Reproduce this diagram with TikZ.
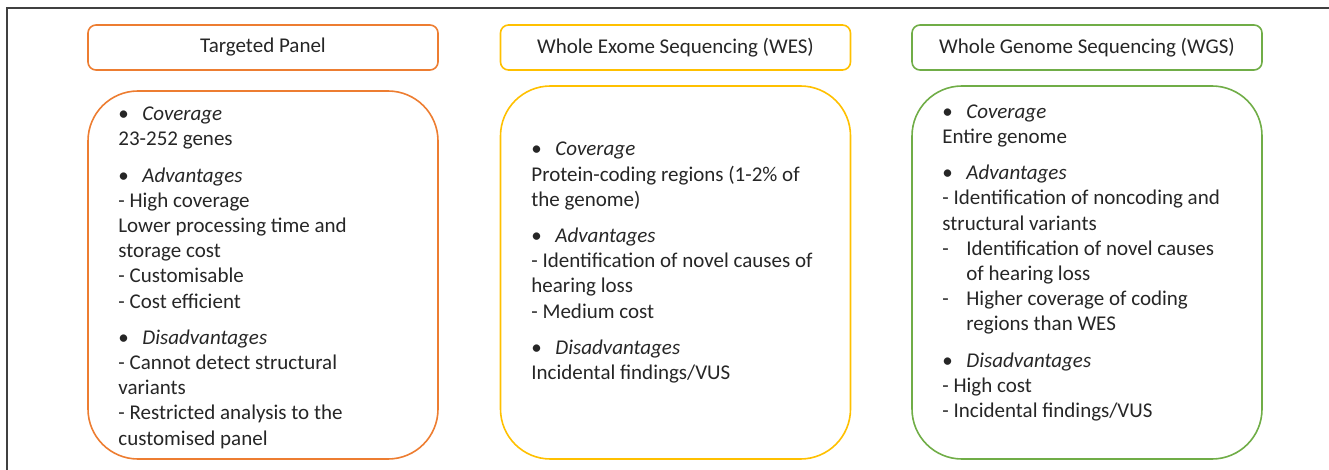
\documentclass[tikz,border=0pt]{standalone}
\usepackage{fontspec}
\setmainfont{Carlito}
\usepackage{tikz}
\usetikzlibrary{arrows}

\definecolor{panelorange}{RGB}{237,125,49}
\definecolor{wesgold}{RGB}{255,192,0}
\definecolor{wgsgreen}{RGB}{112,173,71}
\definecolor{txtgray}{RGB}{38,38,38}
\definecolor{framegray}{RGB}{64,64,64}

\newcommand{\bul}[1]{\makebox[24pt][l]{•}\textit{#1}}
\newcommand{\dsh}{\makebox[24pt][l]{-}}

\begin{document}
\begin{tikzpicture}[
    x=1pt, y=-1pt,
    thick,
    head node/.style={rectangle, rounded corners=8pt, draw, line width=1.6pt,
        minimum width=350pt, minimum height=45pt, inner sep=0pt,
        text=txtgray, font=\fontsize{21}{25.2}\selectfont},
    body node/.style={rectangle, rounded corners=50pt, draw, line width=1.6pt,
        minimum width=350pt, inner sep=0pt},
    list/.style={anchor=base west, align=left, inner sep=0pt,
        text=txtgray, font=\fontsize{21}{25.2}\selectfont}
]
\useasboundingbox (0,0) rectangle (1329,470);

% Frame
\draw[framegray, line width=1.1pt] (7,470) -- (7,8) -- (1329,8);

% Headers
\node[head node, panelorange] at (263,47.5) (h1) {\color{txtgray}Targeted Panel};
\node[head node, wesgold] at (675.5,47.5) (h2) {\color{txtgray}Whole Exome Sequencing (WES)};
\node[head node, wgsgreen] at (1087,47.5) (h3) {\color{txtgray}Whole Genome Sequencing (WGS)};

% Bodies
\node[body node, panelorange, minimum height=368pt] at (263,275) (b1) {};
\node[body node, wesgold, minimum height=373pt] at (675.5,272.5) (b2) {};
\node[body node, wgsgreen, minimum height=373pt] at (1087,272.5) (b3) {};

% Texts (placed at the baseline of their last line)
\node[list] at (118,445) (t1) {%
\bul{Coverage}\\
23-252 genes\\[11pt]
\bul{Advantages}\\
- High coverage\\
Lower processing time and\\
storage cost\\
- Customisable\\
- Cost efficient\\[11pt]
\bul{Disadvantages}\\
- Cannot detect structural\\
variants\\
- Restricted analysis to the\\
customised panel};

\node[list] at (531,379.5) (t2) {%
\bul{Coverage}\\
Protein-coding regions (1-2\% of\\
the genome)\\[11pt]
\bul{Advantages}\\
- Identification of novel causes of\\
hearing loss\\
- Medium cost\\[11pt]
\bul{Disadvantages}\\
Incidental findings/VUS};

\node[list] at (942,417.5) (t3) {%
\bul{Coverage}\\
Entire genome\\[11pt]
\bul{Advantages}\\
- Identification of noncoding and\\
structural variants\\
\dsh Identification of novel causes\\
\hspace*{24pt}of hearing loss\\
\dsh Higher coverage of coding\\
\hspace*{24pt}regions than WES\\[11pt]
\bul{Disadvantages}\\
- High cost\\
- Incidental findings/VUS};

\end{tikzpicture}
\end{document}
